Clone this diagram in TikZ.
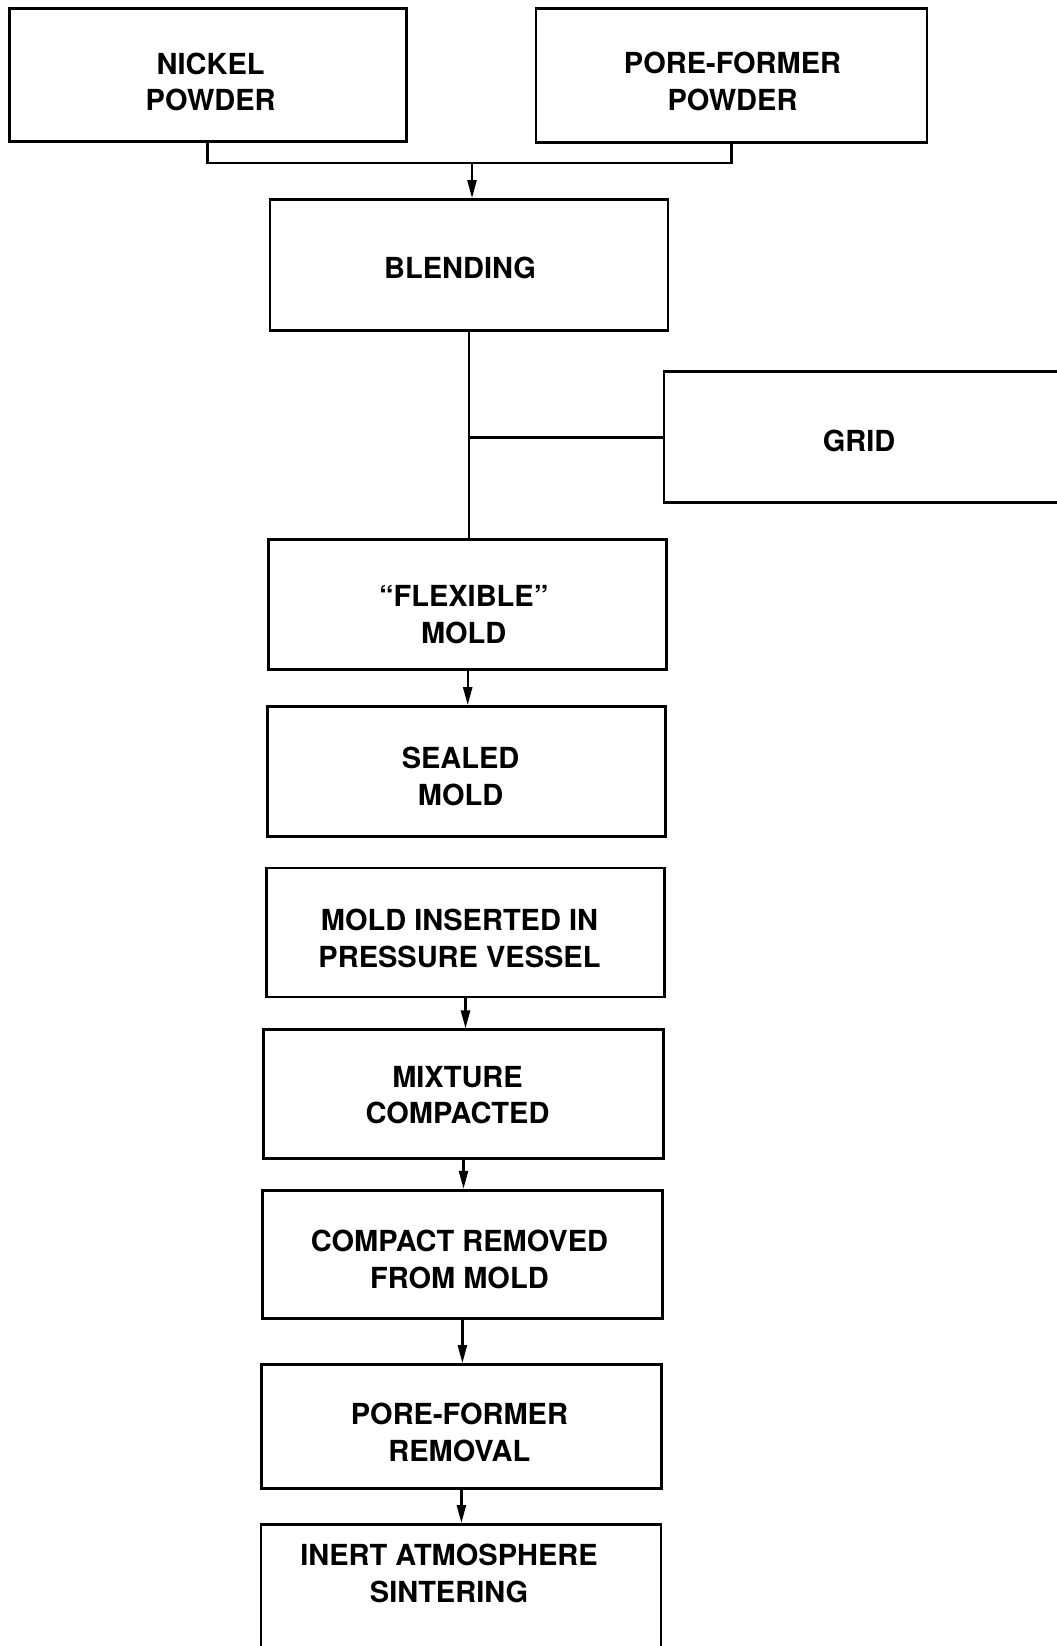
\documentclass[tikz,border=0pt]{standalone}
\usepackage{fontspec}
\setmainfont{TeX Gyre Heros}
\usetikzlibrary{arrows.meta}
\tikzstyle{stepbox} = [draw, line width=2.8pt, minimum width=398pt, minimum height=130pt, inner sep=0pt]
\tikzstyle{steplabel} = [inner sep=0pt, align=center, font=\fontsize{29}{36.5}\selectfont\bfseries]
\tikzstyle{link} = [line width=2.6pt]
\tikzstyle{arrow} = [line width=2.4pt, -{Triangle[length=18pt, width=9pt]}]

\begin{document}
\begin{tikzpicture}[x=1pt, y=-1pt]
    \useasboundingbox (0,0) rectangle (1057,1646);
    \clip (0,0) rectangle (1057,1646);
    % inputs
    \node[stepbox, minimum width=397pt, minimum height=133pt,
          label={[steplabel, xshift=3pt, yshift=-7pt]center:{NICKEL\\POWDER}}] (nickel) at (207.7,75) {};
    \node[stepbox, minimum width=391pt, minimum height=134pt,
          label={[steplabel, xshift=1pt, yshift=-6pt]center:{PORE-FORMER\\POWDER}}] (pore) at (731.5,75.6) {};
    \node[stepbox, minimum height=131pt,
          label={[steplabel, xshift=-9pt, yshift=-3pt]center:BLENDING}] (blending) at (469,265) {};
    \node[stepbox, minimum width=396pt, minimum height=131pt,
          label={[steplabel, xshift=-3pt, yshift=-4pt]center:GRID}] (grid) at (862,437.2) {};
    % process chain
    \node[stepbox, label={[steplabel, xshift=-4pt, yshift=-10pt]center:{“FLEXIBLE”\\MOLD}}] (flexible) at (467.7,604.6) {};
    \node[stepbox, label={[steplabel, xshift=-6pt, yshift=-5pt]center:{SEALED\\MOLD}}] (sealed) at (466.6,771.5) {};
    \node[stepbox, minimum height=129pt,
          label={[steplabel, xshift=-6pt, yshift=-6pt]center:{MOLD INSERTED IN\\PRESSURE VESSEL}}] (inserted) at (465.5,932.5) {};
    \node[stepbox, minimum width=400pt, minimum height=129pt,
          label={[steplabel, xshift=-6pt, yshift=-1pt]center:{MIXTURE\\COMPACTED}}] (mixture) at (463.5,1094.3) {};
    \node[stepbox, minimum width=400pt, minimum height=128pt,
          label={[steplabel, xshift=-3pt, yshift=-5pt]center:{COMPACT REMOVED\\FROM MOLD}}] (compact) at (462.4,1254.2) {};
    \node[stepbox, minimum width=400pt, minimum height=124pt,
          label={[steplabel, xshift=-2pt, yshift=-6pt]center:{PORE-FORMER\\REMOVAL}}] (removal) at (461.4,1426.5) {};
    \node[stepbox, minimum width=400pt, minimum height=200pt, anchor=north] (inert) at (461,1523) {};
    \node[steplabel, anchor=north] (sintering) at ([xshift=-12pt, yshift=-21pt]inert.north) {INERT ATMOSPHERE\\SINTERING};

    \coordinate (join) at (472,163);
    \draw[link] (nickel.south) |- (join) -| (pore.south);
    \draw[arrow] (join) -- (join |- blending.north);
    \draw[link] (blending.south) -- (blending.south |- flexible.north);
    \draw[link] (grid.west) -- (grid.west -| blending.south);
    \foreach \a/\b in {flexible/sealed, inserted/mixture, mixture/compact,
                       compact/removal, removal/inert}
      \draw[arrow] (\a.south) -- (\a.south |- \b.north);
\end{tikzpicture}
\end{document}
